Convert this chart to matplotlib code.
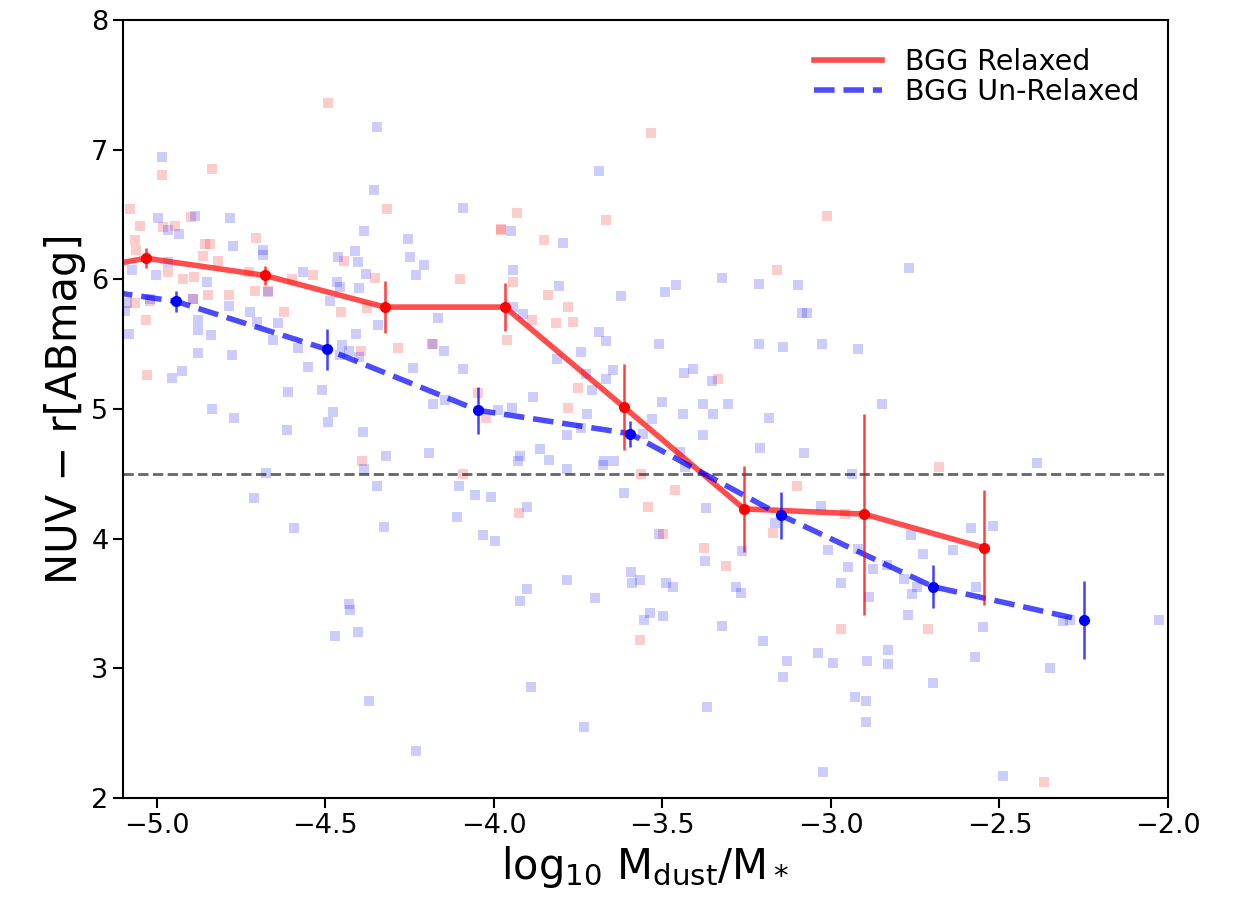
import numpy as np
import matplotlib
matplotlib.use('Agg')
import matplotlib.pyplot as plt

plt.rcParams['mathtext.default'] = 'regular'

# binned medians (first bin of each sample sits just left of the plotted range)
relaxed_bin_x = [-5.387, -5.032, -4.679, -4.323, -3.967, -3.614, -3.258, -2.902, -2.546]
relaxed_bin_y = [5.99, 6.163, 6.03, 5.786, 5.786, 5.015, 4.23, 4.19, 3.93]
relaxed_bin_err = [0.1, 0.075, 0.075, 0.2, 0.185, 0.33, 0.33, 0.775, 0.445]

unrelaxed_bin_x = [-5.392, -4.943, -4.495, -4.047, -3.596, -3.148, -2.697, -2.249]
unrelaxed_bin_y = [6.0, 5.83, 5.46, 4.99, 4.81, 4.18, 3.63, 3.37]
unrelaxed_bin_err = [0.1, 0.08, 0.16, 0.18, 0.1, 0.18, 0.165, 0.3]

# individual galaxies
relaxed_x = [-4.493, -4.983, -4.837, -5.079, -5.050, -5.064, -5.061, -4.98, -4.946, -4.899,
             -4.857, -4.842, -4.864, -4.819, -4.705, -4.966, -4.921, -4.889, -4.893, -4.849,
             -4.785, -5.02, -5.064, -5.032, -5.03, -4.708, -4.669, -4.725, -4.6, -4.537,
             -4.621, -4.443, -4.453, -4.377, -4.352, -4.318, -4.394, -4.285, -4.18, -4.10,
             -3.534, -3.668, -3.932, -3.98, -3.978, -3.851, -3.943, -3.84, -3.779, -3.888,
             -3.816, -3.766, -3.961, -3.161, -3.749, -3.779, -3.336, -4.046, -4.023, -3.011,
             -4.392, -4.09, -3.564, -3.462, -3.102, -3.542, -3.925, -3.497, -3.376, -3.312,
             -3.171, -3.566, -2.678, -2.958, -2.971, -2.711, -2.368]
relaxed_y = [7.361, 6.806, 6.850, 6.541, 6.415, 6.307, 6.23, 6.40, 6.41, 6.48,
             6.27, 6.27, 6.18, 6.14, 6.32, 6.06, 6.00, 6.02, 5.845, 5.88,
             5.876, 5.83, 5.82, 5.685, 5.26, 5.91, 5.91, 6.06, 6.00, 6.03,
             5.75, 6.14, 5.75, 5.78, 6.01, 6.54, 5.45, 5.47, 5.50, 6.00,
             7.125, 6.456, 6.51, 6.38, 6.39, 6.30, 5.98, 5.88, 5.79, 5.69,
             5.66, 5.67, 5.535, 6.07, 5.16, 5.01, 5.235, 5.12, 4.93, 6.487,
             4.60, 4.50, 4.50, 4.375, 4.41, 4.245, 4.20, 4.035, 3.93, 3.79,
             4.04, 3.22, 4.55, 4.19, 3.30, 3.30, 2.125]

unrelaxed_x = [-4.347, -4.983, -4.355, -4.09, -4.995, -4.886, -4.783, -4.966, -4.934, -4.773,
               -4.685, -4.685, -4.384, -4.256, -4.25, -4.207, -4.23, -4.412, -4.404, -4.463,
               -4.379, -5.072, -5.003, -4.966, -4.852, -4.565, -4.466, -4.456, -4.399, -4.486,
               -4.671, -4.893, -5.089, -5.094, -5.082, -5.02, -4.786, -4.878, -4.878, -4.839,
               -4.723, -4.703, -4.639, -4.654, -4.58, -4.552, -4.451, -4.456, -4.43, -4.399,
               -4.344, -4.409, -4.184, -4.148, -4.165, -4.239, -4.092, -4.877, -4.778, -4.954,
               -4.924, -4.611, -4.509, -4.478, -4.493, -4.614, -4.389, -4.18, -4.145, -4.837,
               -4.77,
               -3.688, -3.95, -3.794, -3.944, -3.807, -3.623, -3.492, -3.46, -3.322, -3.212,
               -3.097, -3.087, -3.072, -3.942, -3.912, -3.688, -3.668, -3.51, -3.212, -3.141,
               -3.74, -3.814, -3.726, -3.667, -3.645, -3.708, -3.435, -3.41, -3.354, -3.502,
               -3.379, -3.349, -3.306, -3.183, -3.883, -3.947, -3.987, -3.724, -3.782, -3.742,
               -3.558, -3.532, -3.44, -3.379,
               -2.767, -3.026, -2.919, -2.849,
               -4.32, -4.192, -4.384, -4.676, -4.346, -4.103, -4.711, -4.108, -4.594, -4.325,
               -4.429, -4.427, -4.47, -4.402, -4.371, -4.23,
               -3.21, -3.08, -3.863, -3.836, -3.922, -3.927, -3.673, -3.644, -3.677, -3.782,
               -3.448, -3.433, -4.056, -4.009, -3.902, -3.613, -3.37, -3.166, -4.031, -3.996,
               -3.51, -3.265, -3.373, -3.594, -3.566, -3.591, -3.782, -3.489, -3.468, -3.902,
               -3.922, -3.7, -3.281, -3.267, -3.537, -3.555, -3.497, -3.324, -3.2, -3.131,
               -3.143, -3.891, -3.368, -3.732,
               -2.388, -2.936, -3.028, -2.763, -2.728, -2.637, -2.583, -2.52, -3.008, -2.919,
               -2.948, -2.874, -2.835, -2.971, -2.887, -2.782, -2.759, -2.744, -2.571, -2.772,
               -2.549, -2.311, -2.291, -2.026, -3.039, -2.995, -2.894, -2.832, -2.832, -2.572,
               -2.35, -2.698, -2.929, -2.896, -2.896, -3.024, -2.489]
unrelaxed_y = [7.176, 6.94, 6.69, 6.553, 6.475, 6.49, 6.47, 6.38, 6.35, 6.26,
               6.23, 6.19, 6.37, 6.31, 6.17, 6.11, 6.03, 6.22, 6.13, 6.17,
               6.04, 6.07, 6.03, 6.135, 5.98, 6.06, 5.98, 5.94, 5.93, 5.83,
               5.90, 5.845, 5.82, 5.757, 5.575, 5.85, 5.795, 5.69, 5.61, 5.57,
               5.745, 5.67, 5.66, 5.535, 5.47, 5.325, 5.49, 5.42, 5.45, 5.40,
               5.65, 5.58, 5.50, 5.45, 5.70, 5.32, 5.31, 5.43, 5.42, 5.24,
               5.29, 5.13, 5.145, 4.98, 4.90, 4.84, 4.82, 5.04, 5.07, 5.0,
               4.93,
               6.834, 6.374, 6.28, 6.07, 5.95, 5.87, 5.90, 5.955, 6.01, 5.965,
               5.96, 5.74, 5.74, 5.79, 5.73, 5.595, 5.525, 5.50, 5.50, 5.48,
               5.44, 5.385, 5.27, 5.23, 5.30, 5.15, 5.275, 5.31, 5.215, 5.055,
               5.04, 4.96, 5.04, 4.93, 5.09, 5.01, 4.99, 4.96, 4.80, 4.85,
               4.81, 4.92, 4.96, 4.80,
               6.09, 5.50, 5.46, 5.04,
               4.637, 4.658, 4.535, 4.508, 4.41, 4.405, 4.31, 4.17, 4.08, 4.09,
               3.496, 3.45, 3.25, 3.28, 2.75, 2.36,
               4.70, 4.66, 4.69, 4.61, 4.64, 4.60, 4.60, 4.60, 4.57, 4.54,
               4.67, 4.555, 4.34, 4.32, 4.245, 4.355, 4.24, 4.12, 4.03, 3.98,
               4.035, 3.907, 3.83, 3.745, 3.68, 3.655, 3.68, 3.66, 3.63, 3.61,
               3.52, 3.54, 3.625, 3.58, 3.43, 3.37, 3.40, 3.325, 3.21, 3.06,
               2.935, 2.86, 2.70, 2.55,
               4.58, 4.50, 4.25, 4.03, 3.88, 3.91, 4.08, 4.10, 3.91, 3.92,
               3.78, 3.77, 3.80, 3.655, 3.55, 3.69, 3.57, 3.63, 3.625, 3.41,
               3.32, 3.365, 3.37, 3.37, 3.12, 3.04, 3.06, 3.14, 3.03, 3.09,
               3.0, 2.89, 2.78, 2.745, 2.583, 2.20, 2.17]

red_threshold = 4.5

fig = plt.figure(figsize=(12.39, 9.08), dpi=100)
ax = fig.add_axes([0.0993, 0.1211, 0.8434, 0.8569])

ax.scatter(relaxed_x, relaxed_y, marker='s', s=55, color='red', alpha=0.2, linewidths=0)
ax.scatter(unrelaxed_x, unrelaxed_y, marker='s', s=55, color='blue', alpha=0.2, linewidths=0)

ax.axhline(red_threshold, color='k', ls='--', lw=2, alpha=0.6)

ax.plot(relaxed_bin_x, relaxed_bin_y, color='red', lw=4, alpha=0.7, label='BGG Relaxed')
ax.plot(unrelaxed_bin_x, unrelaxed_bin_y, color='blue', lw=4, ls='--', alpha=0.7, label='BGG Un-Relaxed')
ax.errorbar(relaxed_bin_x, relaxed_bin_y, yerr=relaxed_bin_err, fmt='o', color='red',
            ms=7, elinewidth=1.8, ecolor=(1, 0, 0, 0.75), capsize=0)
ax.errorbar(unrelaxed_bin_x, unrelaxed_bin_y, yerr=unrelaxed_bin_err, fmt='o', color='blue',
            ms=7, elinewidth=1.8, ecolor=(0, 0, 1, 0.75), capsize=0)

ax.set_xlim(-5.1, -2.0)
ax.set_ylim(2, 8)
ax.set_xticks([-5.0, -4.5, -4.0, -3.5, -3.0, -2.5, -2.0])
ax.set_yticks([2, 3, 4, 5, 6, 7, 8])
ax.tick_params(labelsize=19.5, length=7, width=1.5)
for sp in ax.spines.values():
    sp.set_linewidth(1.5)

ax.set_xlabel(r'$\log_{10}\,M_{dust}/M_*$', fontsize=30)
ax.set_ylabel('NUV − r[ABmag]', fontsize=30)

ax.legend(loc='upper right', frameon=False, fontsize=20.5, handlelength=2.4,
          labelspacing=0.05, borderaxespad=0.6)

fig.savefig('out.png', dpi=100)
